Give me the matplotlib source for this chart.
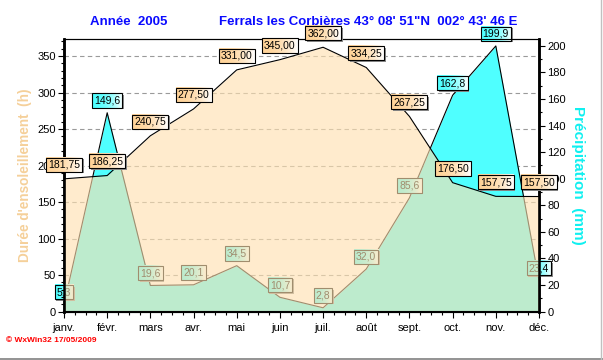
import numpy as np
import matplotlib
matplotlib.use("Agg")
import matplotlib.pyplot as plt
from matplotlib.patches import Rectangle
from matplotlib.lines import Line2D
from matplotlib.ticker import MultipleLocator
from matplotlib.transforms import IdentityTransform, blended_transform_factory

MONTHS = ["janv.", "févr.", "mars", "avr.", "mai", "juin",
          "juil.", "août", "sept.", "oct.", "nov.", "déc."]
SUNSHINE = [181.75, 186.25, 240.75, 277.50, 331.00, 345.00,
            362.00, 334.25, 267.25, 176.50, 157.75, 157.50]
RAIN = [5.3, 149.6, 19.6, 20.1, 34.5, 10.7, 2.8, 32.0, 85.6, 162.8, 199.9, 23.4]

CYAN = (0.31, 1.0, 1.0)
SUN_FILL = (1.0, 0.88, 0.69)
SUN_ALPHA = 0.63
PEACH = (1.0, 0.83, 0.60)
GRID = "#9a9a9a"
BLUE = "#0a0aff"

plt.rcParams["font.family"] = ["Liberation Sans", "DejaVu Sans"]

fig = plt.figure(figsize=(6.03, 3.60), dpi=100)
ax_sun = fig.add_axes([64 / 603, 48.5 / 360, 475 / 603, 273 / 360])
ax_rain = ax_sun.twinx()
ax_sun.set_zorder(ax_rain.get_zorder() + 1)
ax_sun.patch.set_visible(False)

x = np.arange(len(MONTHS))
ax_sun.set_xlim(0, len(MONTHS) - 1)
ax_sun.set_ylim(0, 374)
ax_rain.set_ylim(0, 205.5)

# grid sits under the rain fill
ax_rain.grid(axis="x", color=GRID, linestyle=(0, (4, 3)), linewidth=0.8)
ax_rain.set_axisbelow(True)
hgrid = blended_transform_factory(ax_rain.transAxes, ax_sun.transData)
for v in range(50, 400, 50):
    ax_rain.plot([0, 1], [v, v], transform=hgrid, color=GRID,
                 linestyle=(0, (4, 3)), linewidth=0.8, zorder=0.5)

# rain: cyan area with black line, sunshine overlay turns it green
ax_rain.fill_between(x, 0, RAIN, color=CYAN, linewidth=0, zorder=1)
ax_rain.plot(x, RAIN, color="black", linewidth=0.8, zorder=2)
ax_sun.fill_between(x, 0, SUNSHINE, color=SUN_FILL, alpha=SUN_ALPHA, linewidth=0, zorder=1)
ax_sun.plot(x, SUNSHINE, color="black", linewidth=0.8, zorder=2)

labels = []
for xi, v in zip(x, RAIN):
    t = ax_rain.annotate(f"{v:.1f}".replace(".", ","), (xi, v), xytext=(0, 8.8),
                         textcoords="offset points", ha="center", va="center",
                         fontsize=7.5, zorder=5, annotation_clip=False,
                         bbox=dict(boxstyle="square,pad=0.2", fc="none", ec="black", lw=0.8))
    labels.append((ax_rain, t, CYAN))
for xi, v in zip(x, SUNSHINE):
    t = ax_sun.annotate(f"{v:.2f}".replace(".", ","), (xi, v), xytext=(0, 10.2),
                        textcoords="offset points", ha="center", va="center",
                        fontsize=7.5, zorder=8, annotation_clip=False,
                        bbox=dict(boxstyle="square,pad=0.2", fc="none", ec="black", lw=0.8))
    labels.append((ax_sun, t, PEACH))

# axes styling
ax_sun.set_xticks(x)
ax_sun.set_xticklabels(MONTHS, fontsize=8)
ax_sun.xaxis.set_minor_locator(MultipleLocator(0.25))
ax_sun.yaxis.set_major_locator(MultipleLocator(50))
ax_sun.yaxis.set_minor_locator(MultipleLocator(10))
ax_rain.yaxis.set_major_locator(MultipleLocator(20))
ax_rain.yaxis.set_minor_locator(MultipleLocator(10))
for a in (ax_sun, ax_rain):
    a.tick_params(which="major", length=4, width=0.8, labelsize=8, pad=2)
    a.tick_params(which="minor", length=2, width=0.8)
ax_sun.tick_params(axis="x", which="major", pad=4)
for name, lw in (("left", 1.8), ("right", 1.8), ("bottom", 1.5), ("top", 0.8)):
    ax_sun.spines[name].set_linewidth(lw)
    ax_rain.spines[name].set_linewidth(lw)

ax_sun.set_ylabel("Durée d'ensoleillement  (h)", color="#f5d09a", fontsize=9.8,
                  fontweight="bold", labelpad=4)
ax_rain.set_ylabel("Précipitation  (mm)", color="#10f0f0", fontsize=11,
                   fontweight="bold", rotation=270, labelpad=14)

fig.text(90 / 603, 1 - 22 / 360, "Année  2005", color=BLUE, fontsize=9.5,
         fontweight="bold", va="center")
fig.text(219 / 603, 1 - 22 / 360, "Ferrals les Corbières 43° 08' 51\"N  002° 43' 46 E",
         color=BLUE, fontsize=9.5, fontweight="bold", va="center")
fig.text(6 / 603, 1 - 341 / 360, "© WxWin32 17/05/2009", color="red", fontsize=6,
         fontweight="bold", va="center")
fig.add_artist(Line2D([0, 1], [1 / 360, 1 / 360], color="#808080", linewidth=1.2))
fig.add_artist(Line2D([601 / 603, 601 / 603], [0, 1], color="#c0c0c0", linewidth=1))

# gradient fill + shadow behind each value box
fig.canvas.draw()
for a in (ax_sun, ax_rain):
    a.set_autoscale_on(False)
ramp = np.linspace(0, 1, 64) ** 2
for a, t, col in labels:
    bb = t.get_bbox_patch().get_window_extent()
    grad = np.ones((1, 64, 3))
    for k in range(3):
        grad[0, :, k] = col[k] + (1 - col[k]) * ramp
    z = t.get_zorder()
    a.add_patch(Rectangle((bb.x0 + 1.5, bb.y0 - 1.5), bb.width, bb.height, transform=IdentityTransform(),
                          facecolor="#8a8a8a", edgecolor="none", zorder=z - 0.2, clip_on=False))
    im = a.imshow(grad, extent=(bb.x0, bb.x1, bb.y0, bb.y1), transform=IdentityTransform(),
                  aspect="auto", interpolation="bilinear", zorder=z - 0.1)
    im.set_clip_on(False)

ax_sun.set_xlim(0, len(MONTHS) - 1)
ax_sun.set_ylim(0, 374)
ax_rain.set_ylim(0, 205.5)

fig.savefig("out.png", dpi=100)
